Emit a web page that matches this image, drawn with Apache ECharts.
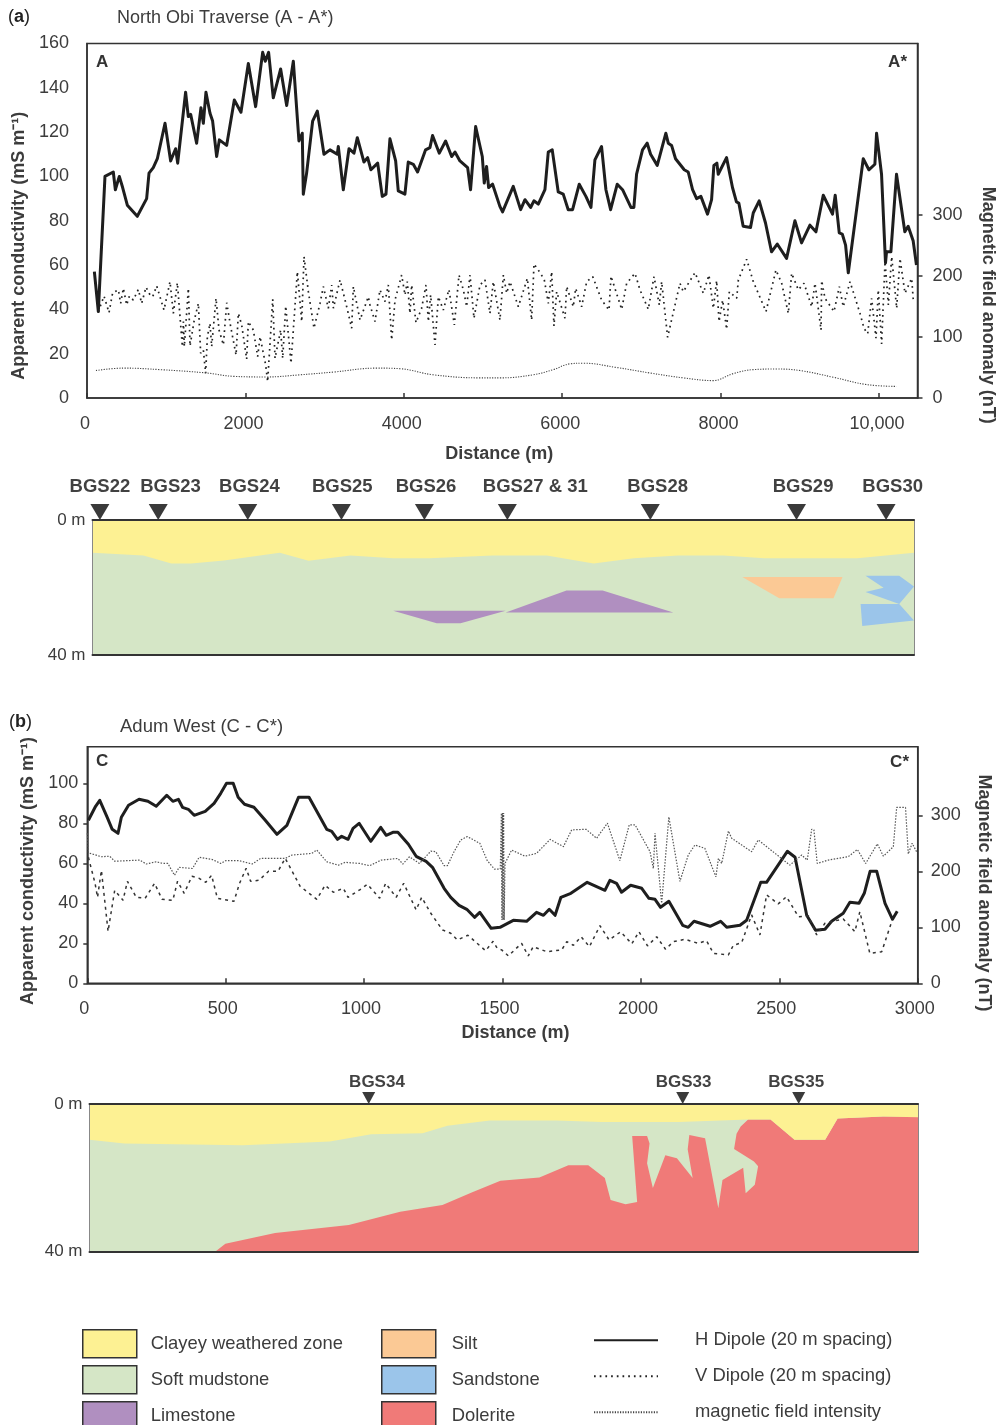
<!DOCTYPE html>
<html>
<head>
<meta charset="utf-8">
<script src="https://cdn.jsdelivr.net/npm/echarts@6/dist/echarts.min.js"></script>
<style>
html, body { margin: 0; padding: 0; background: #fff; }
#chart { width: 1003px; height: 1425px; }
</style>
</head>
<body>
<div id="chart"></div>
<script>
// North Obi traverse, distance (m) / value
const hDipoleA = [[93,57],[143,39],[227,100],[332,102],[358,94],[408,100],[450,95],[509,87],[635,82],[753,90],[783,101.5],[837,104],[888,108],[985,124],[1056,107],[1119,112.5],[1145,106],[1245,138],[1279,127],[1309,128],[1384,115],[1439,131],[1469,124],[1502,138],[1553,128.5],[1586,125],[1637,109],[1671,116.5],[1763,114],[1860,134.5],[1944,129],[2037,151],[2129,131.5],[2218,156],[2251,152],[2293,156],[2352,135.5],[2445,148.5],[2521,132],[2605,152],[2676,116],[2718,119.5],[2731,92],[2773,101.5],[2849,125],[2908,129.5],[2992,110],[3068,112],[3160,110],[3173,113.5],[3236,94],[3308,112.5],[3371,110.5],[3413,117.5],[3497,106.5],[3543,108.5],[3585,103],[3670,106],[3728,91],[3775,92],[3825,117],[3897,107],[3930,93.5],[4014,92],[4056,106.5],[4120,105.5],[4174,102],[4275,112],[4330,113],[4363,118.5],[4448,110.5],[4528,116],[4604,109],[4646,111],[4709,107],[4806,104],[4843,94],[4907,122.5],[4991,109],[5016,97],[5045,104.5],[5071,95],[5121,96.5],[5213,86.5],[5247,84],[5382,95.5],[5475,85],[5530,89.5],[5601,86],[5643,89],[5698,87.5],[5782,94],[5824,111],[5874,112],[5950,93],[6013,92],[6076,85],[6131,85],[6215,96.5],[6299,91],[6363,86],[6413,107.5],[6497,113.5],[6552,94],[6611,85],[6695,96.5],[6762,94],[6868,86],[6905,86],[6939,101],[7014,112],[7073,115],[7116,110],[7200,105],[7309,119.5],[7339,115],[7381,114],[7431,108],[7541,103],[7591,102],[7646,94],[7697,90],[7751,91],[7835,83],[7886,89.5],[7915,105],[7953,106],[7970,101],[8075,108.5],[8150,95],[8200,88.5],[8230,88],[8285,77.5],[8378,77],[8412,83.5],[8487,89],[8567,79],[8643,66],[8715,69.5],[8833,63],[8938,80],[9022,70],[9128,78],[9204,75],[9296,91.5],[9413,83],[9447,91.5],[9498,74.5],[9536,74],[9578,69],[9612,56.5],[9717,85],[9801,108],[9872,103],[9948,105.5],[9969,119.5],[10032,101],[10082,61],[10095,66],[10150,66],[10221,101],[10326,75],[10368,77.5],[10431,71],[10473,60]];
const vDipoleA = [[143,39],[215,46],[278,38.5],[324,47.5],[396,48.8],[425,42.7],[459,49.5],[501,42],[535,46],[585,44.2],[648,49],[690,42.7],[745,50],[796,46.5],[829,45.7],[880,50.6],[972,39.7],[1048,52.5],[1090,38.2],[1141,52],[1204,23.2],[1217,34.5],[1229,23.2],[1280,49.5],[1301,23.5],[1351,34.5],[1406,42.7],[1435,20.2],[1469,21.7],[1498,11.2],[1520,27.7],[1553,33.7],[1574,23.2],[1629,45],[1667,30.7],[1722,24],[1764,43],[1814,32.2],[1882,19.4],[1911,38.2],[1953,33],[2016,17.5],[2037,34.5],[2100,30.7],[2155,18.7],[2185,27.7],[2256,14.9],[2281,7.4],[2345,44.5],[2374,17.9],[2445,30.7],[2471,17.9],[2509,41.5],[2576,15.7],[2656,57],[2711,34.5],[2740,63.8],[2795,48],[2866,31.5],[2942,42.7],[2984,50.3],[3047,40.5],[3090,51],[3111,40.5],[3195,53.3],[3279,41.2],[3342,31.5],[3363,50.3],[3447,35.2],[3552,45.7],[3573,42],[3636,34.5],[3699,48.8],[3762,43.5],[3804,51],[3847,26.2],[3889,44.2],[3973,55.5],[4015,46.5],[4044,52.5],[4078,38.2],[4099,51],[4154,34],[4225,40.5],[4280,51],[4310,34.5],[4339,46.5],[4394,24],[4436,45.7],[4499,39.7],[4570,49],[4638,33],[4697,55.5],[4752,48.8],[4794,41.2],[4836,55.5],[4886,36],[4962,51],[5025,53.3],[5088,38.2],[5130,52.5],[5214,35.2],[5257,55.5],[5299,47.3],[5341,52.5],[5446,41.2],[5560,54],[5614,35.2],[5644,60.5],[5720,56.6],[5774,53.3],[5825,42.7],[5867,57],[5896,32.5],[5930,48],[6035,36],[6056,50.3],[6140,41.2],[6170,49.5],[6246,41.2],[6309,52.5],[6385,54.8],[6498,44.2],[6591,39.7],[6616,55],[6679,48],[6751,40],[6814,51.8],[6919,56.3],[6982,48.8],[7087,40],[7159,54.8],[7226,42],[7256,52.5],[7331,27.4],[7487,51.8],[7529,48],[7677,56.6],[7782,47.3],[7853,55.5],[7908,40.5],[7950,53],[7980,34.5],[8026,44.2],[8076,31],[8110,48],[8203,45],[8224,53.3],[8329,62.6],[8413,52.5],[8573,39],[8699,57.8],[8771,51.8],[8855,38.2],[8897,56.3],[8981,48.8],[9053,51.8],[9150,41.2],[9192,51.8],[9268,30.7],[9276,53],[9318,45],[9432,39],[9499,50.3],[9549,41.2],[9634,52.5],[9760,38.2],[9810,31.5],[9857,29],[9907,45],[9962,27],[9991,48.8],[10033,24.4],[10076,61.5],[10118,42],[10160,63.8],[10223,40.5],[10265,63],[10328,47.3],[10412,54],[10433,44.2]];
const magneticA = [[113,45],[459,49],[922,46.5],[1511,41],[1847,35.5],[2268,34.5],[2689,38],[3110,42.5],[3657,49],[3951,48],[4372,38],[4961,33],[5214,33],[5634,38],[5887,46.5],[6098,56],[6266,57],[6687,50],[7108,41],[7528,33],[7907,28.5],[8159,40],[8412,46.5],[8707,47.5],[9002,45],[9423,34],[9843,22],[10221,19]];

// Adum West traverse
const hDipoleB = [[4,81.5],[30,88.5],[45,91.5],[72,83],[90,77],[111,75],[123,83],[149,89],[187,92],[219,91],[249,88.5],[287,94],[309,91],[329,92],[344,88],[365,87],[386,84],[426,86],[458,90],[482,95],[503,100],[527,100],[545,93],[568,89.5],[602,88],[643,81.5],[685,74.5],[721,79],[763,93],[801,93],[865,77],[883,76],[904,72],[919,73.5],[942,72],[960,77.5],[982,80],[1024,71],[1060,78],[1080,74],[1104,75.5],[1122,75.5],[1160,69.5],[1188,63.5],[1224,61],[1247,58],[1289,47.5],[1313,43],[1343,39],[1371,37],[1399,33],[1418,35.5],[1459,27.5],[1491,28],[1539,31.5],[1587,31],[1623,35.5],[1648,34],[1669,37],[1690,34],[1711,43],[1747,45],[1806,50.5],[1870,46.5],[1888,51.5],[1912,50],[1930,45.5],[1963,49],[2003,47.5],[2029,42.5],[2051,42],[2071,38],[2101,41],[2151,29],[2171,28],[2192,31],[2250,28.5],[2288,31],[2310,28],[2358,29],[2382,31.5],[2433,50.5],[2454,50.5],[2529,66],[2557,63],[2599,34],[2631,26.5],[2665,27],[2689,31],[2731,35],[2755,40.5],[2788,40],[2807,45],[2828,56],[2852,56],[2882,40],[2909,32],[2926,36]];
const vDipoleB = [[4,63],[28,50],[37,43],[51,56.5],[75,26],[99,46.5],[129,41.5],[145,51],[177,43],[209,42.5],[243,50],[270,42],[309,41.5],[326,51],[350,45],[378,53.5],[404,52.5],[428,50.5],[449,54],[470,42.5],[530,41],[550,50],[574,57.5],[590,51],[620,51.5],[655,56],[689,56],[715,62.5],[769,48.5],[829,42],[859,49],[889,45.5],[925,47.5],[942,43],[984,46.7],[1012,49.5],[1056,42.5],[1078,50],[1116,43],[1143,50],[1188,36.7],[1208,43],[1241,35],[1283,26.7],[1313,25],[1337,21.7],[1375,24],[1439,16.3],[1466,21],[1481,17.5],[1497,16.7],[1521,13.7],[1569,20],[1593,13.7],[1611,18.3],[1660,15.8],[1714,16.7],[1732,20.8],[1756,19],[1784,23.3],[1814,18.3],[1852,28.8],[1885,21.7],[1927,25.8],[1967,19.7],[1993,25.8],[2024,18.7],[2057,23.3],[2089,17],[2117,20.8],[2159,22],[2207,20],[2237,21.3],[2262,15],[2316,14.2],[2334,19],[2364,20.3],[2400,34.2],[2430,24.2],[2454,44.2],[2496,39.7],[2526,43.3],[2569,33.3],[2605,33.7],[2635,24.2],[2665,30],[2731,32.2],[2773,25.8],[2791,35.8],[2827,15],[2870,15.8],[2906,30.8]];
const magneticB = [[0,268],[4,233],[51,226],[81,227],[99,218],[189,220],[213,213],[249,217],[273,214],[291,214],[315,193],[332,207],[380,205],[404,225],[452,221],[482,214],[500,219],[548,219],[596,213],[626,223],[715,223],[739,229],[811,232],[829,238],[865,217],[907,211],[931,216],[984,214],[1020,210],[1062,220],[1122,223],[1140,213],[1164,226],[1200,214],[1241,236],[1259,235],[1289,210],[1301,210],[1325,235],[1349,256],[1373,262],[1418,250],[1445,219],[1471,204],[1492,204],[1496,304],[1498,113],[1500,304],[1502,113],[1504,304],[1506,113],[1509,214],[1533,238],[1581,227],[1623,232],[1672,257],[1720,244],[1750,274],[1802,275],[1840,259],[1879,286],[1924,219],[1958,283],[1979,283],[2033,235],[2045,205],[2051,268],[2075,143],[2101,297],[2141,182],[2171,229],[2195,247],[2231,241],[2271,190],[2280,223],[2292,214],[2316,272],[2328,259],[2400,235],[2424,256],[2538,211],[2581,229],[2601,220],[2617,275],[2625,274],[2637,214],[2677,220],[2749,226],[2782,239],[2812,214],[2854,249],[2876,227],[2912,244],[2924,314],[2956,314],[2966,231],[2980,250],[2996,235]];

// geological sections: position along section (%), depth (m)
const sectionBox = [[0,0],[100,0],[100,40],[0,40]];
const weatheredA = [[0,0],[100,0],[100,9.7],[93.1,11.3],[81.8,11.3],[76.8,10.5],[71.3,10.5],[65.9,11.3],[61,12.9],[55.3,10.5],[48.7,10.5],[41,11.3],[36.6,11.3],[31.4,10.5],[26.3,12.1],[22.8,9.7],[16,12],[12,12.9],[9.6,12.9],[6.2,10.5],[0,9.7]];
const limestoneA = [[[36.6,26.9],[50.3,26.9],[44.8,30.6],[41.9,30.6]],[[50.3,27.4],[57.7,20.9],[62.1,20.9],[70.7,27.4]]];
const siltA = [[79.1,16.9],[91.3,16.9],[90.2,23.2],[83.6,23.2]];
const sandstoneA = [[[94.1,16.5],[98.2,16.5],[100,19.7],[98.2,24.9],[94.1,21.3],[96.3,20.1]],[[93.5,24.9],[98.2,24.9],[100,29.8],[93.7,31.4]]];
const weatheredB = [[0,0],[100,0],[100,3.6],[95.8,3.4],[90.3,3.9],[88.8,9.7],[85.1,9.7],[82.2,4.2],[79.5,4.2],[71.1,4.9],[61.8,4.9],[56.4,4.5],[48.3,4.5],[43.2,5.9],[40.2,7.9],[34,8.2],[29,10.2],[18.5,11.2],[4.2,10.7],[0,9.7]];
const doleriteB = [[15.2,40],[16.4,37.9],[22.4,35],[31.3,32.8],[37.5,29.2],[42.6,27.4],[46.2,23.9],[49.6,20.8],[54.3,19.9],[57.8,16.6],[60.2,16.6],[62.2,20.1],[62.9,26],[64.7,27.2],[66.1,26.6],[65.5,8.7],[67.3,8.7],[67.6,10.7],[67.3,16.1],[68,22.8],[69.5,13.9],[70.9,14.7],[72.8,20.1],[72.2,12.3],[72.4,8.4],[74.3,9.3],[75.9,28.3],[76.4,20.6],[78.9,17.3],[79.2,24.2],[80.3,21.9],[80.7,16.9],[80.2,15.6],[77.8,12.2],[78.1,8.1],[78.6,6.1],[79.5,4.2],[82.2,4.2],[85.1,9.7],[88.8,9.7],[90.3,3.9],[95.8,3.4],[100,3.4],[100,40]];

const boreholesA = ['BGS22','BGS23','BGS24','BGS25','BGS26','BGS27 & 31','BGS28','BGS29','BGS30'];
const boreholeXA = [0.9,8,18.9,30.3,40.4,50.5,67.9,85.7,96.6];
const boreholeLabelXA = [0.9,9.5,19.1,30.4,40.6,53.9,68.8,86.5,97.4];
const boreholesB = ['BGS34','BGS33','BGS35'];
const boreholeXB = [33.7,71.6,85.6];
const boreholeLabelXB = [34.7,71.7,85.3];

const colors = { weathered: '#FDF193', mudstone: '#D5E6C6', limestone: '#B08FC0', silt: '#FBC995', sandstone: '#9BC5EA', dolerite: '#F07A78' };
const FONT = '"Liberation Sans", Arial, sans-serif';
const INK = '#333';
const TEXT = '#3c3c3c';

const chart = echarts.init(document.getElementById('chart'), null, { renderer: 'canvas' });

function tickText(v) {
    return v >= 10000 ? '10,000' : String(v);
}

function plotXAxis(gridIndex, max, ticks, nameGap, namePadding, labelPadding) {
    return {
        type: 'value', gridIndex: gridIndex, min: 0, max: max, position: 'bottom',
        name: 'Distance (m)', nameLocation: 'middle', nameGap: nameGap,
        nameTextStyle: { fontFamily: FONT, fontSize: 18, fontWeight: 'bold', color: TEXT, padding: namePadding },
        axisLine: { lineStyle: { color: INK, width: 1.5 } },
        axisTick: { show: true, inside: true, length: 5, customValues: ticks, lineStyle: { color: INK, width: 1.5 } },
        axisLabel: { customValues: ticks, formatter: tickText, fontFamily: FONT, fontSize: 18, color: TEXT, margin: 17, padding: labelPadding },
        splitLine: { show: false }
    };
}

function plotYAxis(gridIndex, position, max, ticks, name, nameGap, padding, tickLen, margin) {
    return {
        type: 'value', gridIndex: gridIndex, min: 0, max: max, position: position,
        name: name, nameLocation: 'middle', nameGap: nameGap, nameRotate: position === 'left' ? 90 : -90,
        nameTextStyle: { fontFamily: FONT, fontSize: 18, fontWeight: 'bold', color: TEXT, padding: padding },
        axisLine: { show: true, lineStyle: { color: INK, width: 1.5 } },
        axisTick: { show: tickLen > 0, length: tickLen, customValues: ticks, lineStyle: { color: INK, width: 1.5 } },
        axisLabel: { customValues: ticks, fontFamily: FONT, fontSize: 18, color: TEXT, margin: margin },
        splitLine: { show: false }
    };
}

function sectionXAxis(gridIndex, position) {
    return {
        type: 'value', gridIndex: gridIndex, min: 0, max: 100, position: position, z: 5,
        axisLine: { onZero: false, lineStyle: { color: INK, width: 2 } },
        axisTick: { show: false }, axisLabel: { show: false }, splitLine: { show: false }
    };
}

function sectionYAxis(gridIndex, position) {
    return {
        type: 'value', gridIndex: gridIndex, min: 0, max: 40, inverse: true, position: position, z: 5,
        axisLine: { show: true, onZero: false, lineStyle: { color: '#888', width: 1 } },
        axisTick: { show: false },
        axisLabel: { show: position === 'left', customValues: [0, 40], formatter: '{value} m', fontFamily: FONT, fontSize: 17, color: TEXT, margin: 7 },
        splitLine: { show: false }
    };
}

function traceSeries(name, data, xIdx, yIdx, lineStyle, smooth) {
    return {
        type: 'line', name: name, data: data, xAxisIndex: xIdx, yAxisIndex: yIdx,
        symbol: 'none', lineStyle: lineStyle, smooth: smooth || false, z: 3, clip: false
    };
}

function polygonSeries(name, polys, color, xIdx, yIdx) {
    return {
        type: 'custom', name: name, xAxisIndex: xIdx, yAxisIndex: yIdx, clip: false, z: 2,
        itemStyle: { color: color },
        data: polys.map(p => p[0]),
        encode: { x: 0, y: 1 },
        renderItem: (params, api) => ({
            type: 'polygon',
            shape: { points: polys[params.dataIndex].map(p => api.coord(p)) },
            style: { fill: color }
        })
    };
}

function boreholeSeries(xs, size, offset, xIdx, yIdx) {
    return {
        type: 'scatter', name: 'boreholes', xAxisIndex: xIdx, yAxisIndex: yIdx, clip: false, z: 4,
        symbol: 'triangle', symbolRotate: 180, symbolSize: size, symbolOffset: [0, offset],
        itemStyle: { color: '#3a3a3a', opacity: 1 },
        data: xs.map(x => [x, 0])
    };
}

function boreholeLabels(names, xs, fontSize, distance, xIdx, yIdx) {
    return {
        type: 'scatter', name: 'borehole labels', xAxisIndex: xIdx, yAxisIndex: yIdx, clip: false, z: 4,
        symbolSize: 1, itemStyle: { color: 'rgba(0,0,0,0)' },
        data: xs.map((x, i) => ({ value: [x, 0], name: names[i] })),
        label: { show: true, position: 'top', distance: distance, formatter: '{b}', fontFamily: FONT, fontSize: fontSize, fontWeight: 'bold', color: '#111' }
    };
}

function textEl(x, y, text, size, weight, color, align) {
    return {
        type: 'text', x: x, y: y,
        style: { text: text, fontFamily: FONT, fontSize: size, fontWeight: weight || 'normal', fill: color || TEXT, textAlign: align || 'left', textVerticalAlign: 'middle' }
    };
}

const thickLine = { color: '#1e1e1e', width: 3, type: 'solid', join: 'round' };
const dashedA = { color: '#222', width: 1.7, type: [1.7, 4], join: 'bevel' };
const dottedA = { color: '#444', width: 1.1, type: [1.2, 1.4] };
const dashedB = { color: '#333', width: 1.5, type: [3, 4], join: 'bevel' };
const dottedB = { color: '#555', width: 1.2, type: [1.5, 1.5], join: 'bevel' };

const names = { w: 'Clayey weathered zone', m: 'Soft mudstone', l: 'Limestone', s: 'Silt', n: 'Sandstone', d: 'Dolerite', h: 'H Dipole (20 m spacing)', v: 'V Dipole (20 m spacing)', f: 'magnetic field intensity' };
const swatchStyle = { borderColor: '#333', borderWidth: 1.5 };

function legendText(gap) {
    return { fontFamily: FONT, fontSize: 18.4, color: TEXT, padding: [0, 0, 0, gap] };
}

chart.setOption({
    animation: false,
    backgroundColor: '#fff',
    grid: [
        { left: 87, top: 43.5, width: 830.5, height: 354.5, show: true, borderColor: INK, borderWidth: 1.5, backgroundColor: 'transparent', outerBoundsMode: 'none' },
        { left: 92.5, top: 520, width: 821.5, height: 135, outerBoundsMode: 'none' },
        { left: 87.3, top: 746.7, width: 830.4, height: 236.6, show: true, borderColor: INK, borderWidth: 1.5, backgroundColor: 'transparent', outerBoundsMode: 'none' },
        { left: 89.5, top: 1104, width: 828.5, height: 147.5, outerBoundsMode: 'none' }
    ],
    xAxis: [
        plotXAxis(0, 10486, [0, 2000, 4000, 6000, 8000, 10000], 47, [0, 6, 0, 0], [0, 4, 0, 0]),
        sectionXAxis(1, 'bottom'), sectionXAxis(1, 'top'),
        plotXAxis(2, 3000, [0, 500, 1000, 1500, 2000, 2500, 3000], 41, [0, 0, 0, 26], [0, 6, 0, 0]),
        sectionXAxis(3, 'bottom'), sectionXAxis(3, 'top')
    ],
    yAxis: [
        plotYAxis(0, 'left', 160, [0, 20, 40, 60, 80, 100, 120, 140, 160], 'Apparent conductivity (mS m⁻¹)', 58, [0, 50, 0, 0], 0, 18),
        plotYAxis(0, 'right', 581, [0, 100, 200, 300], 'Magnetic field anomaly (nT)', 61, [0, 0, 0, 169], 5, 15),
        sectionYAxis(1, 'left'), sectionYAxis(1, 'right'),
        plotYAxis(2, 'left', 118.3, [0, 20, 40, 60, 80, 100], 'Apparent conductivity (mS m⁻¹)', 47, [0, 12, 0, 0], 4, 9),
        plotYAxis(2, 'right', 422.5, [0, 100, 200, 300], 'Magnetic field anomaly (nT)', 57, [0, 0, 0, 56], 5, 13),
        sectionYAxis(3, 'left'), sectionYAxis(3, 'right')
    ],
    legend: [
        { left: 82, top: 1329, height: 130, padding: 0, orient: 'vertical', itemWidth: 54, itemHeight: 28, itemGap: 6.5, textStyle: legendText(9), itemStyle: swatchStyle, selectedMode: false, icon: 'rect', data: [names.w, names.m, names.l] },
        { left: 381, top: 1329, height: 130, padding: 0, orient: 'vertical', itemWidth: 54, itemHeight: 28, itemGap: 6.5, textStyle: legendText(11), itemStyle: swatchStyle, selectedMode: false, icon: 'rect', data: [names.s, names.n, names.d] },
        { left: 593, top: 1329, height: 130, padding: 0, orient: 'vertical', itemWidth: 64, itemHeight: 28, itemGap: 13.6, textStyle: legendText(32), itemStyle: { color: 'rgba(0,0,0,0)', borderWidth: 0 }, selectedMode: false, data: [names.h, names.v, names.f] }
    ],
    series: [
        // section a
        polygonSeries(names.m, [sectionBox], colors.mudstone, 1, 2),
        polygonSeries(names.w, [weatheredA], colors.weathered, 1, 2),
        polygonSeries(names.l, limestoneA, colors.limestone, 1, 2),
        polygonSeries(names.s, [siltA], colors.silt, 1, 2),
        polygonSeries(names.n, sandstoneA, colors.sandstone, 1, 2),
        boreholeSeries(boreholeXA, [19, 16], -8, 1, 2),
        boreholeLabels(boreholesA, boreholeLabelXA, 18.5, 23, 1, 2),
        // section b
        polygonSeries(names.m, [sectionBox], colors.mudstone, 4, 6),
        polygonSeries(names.d, [doleriteB], colors.dolerite, 4, 6),
        polygonSeries(names.w, [weatheredB], colors.weathered, 4, 6),
        boreholeSeries(boreholeXB, [13, 12], -6, 4, 6),
        boreholeLabels(boreholesB, boreholeLabelXB, 17, 13, 4, 6),
        // traces
        traceSeries(names.h, hDipoleA, 0, 0, thickLine),
        traceSeries(names.v, vDipoleA, 0, 0, dashedA),
        traceSeries(names.f, magneticA, 0, 1, dottedA, 0.4),
        traceSeries(names.h, hDipoleB, 3, 4, thickLine),
        traceSeries(names.v, vDipoleB, 3, 4, dashedB),
        traceSeries(names.f, magneticB, 3, 5, dottedB)
    ],
    graphic: [
        { type: 'text', x: 8, y: 17, style: { text: '({b|a})', rich: { b: { fontWeight: 'bold', fontFamily: FONT, fontSize: 18, fill: '#222' } }, fontFamily: FONT, fontSize: 18, fill: '#222', textVerticalAlign: 'middle' } },
        textEl(117, 18, 'North Obi Traverse (A - A*)', 18),
        textEl(96, 62, 'A', 17, 'bold', '#333'),
        textEl(907, 62, 'A*', 17, 'bold', '#333', 'right'),
        { type: 'text', x: 9, y: 722, style: { text: '({b|b})', rich: { b: { fontWeight: 'bold', fontFamily: FONT, fontSize: 18, fill: '#222' } }, fontFamily: FONT, fontSize: 18, fill: '#222', textVerticalAlign: 'middle' } },
        textEl(120, 727, 'Adum West (C - C*)', 18.5),
        textEl(96, 761, 'C', 17, 'bold', '#333'),
        textEl(909, 762, 'C*', 17, 'bold', '#333', 'right')
    ]
});
</script>
</body>
</html>
